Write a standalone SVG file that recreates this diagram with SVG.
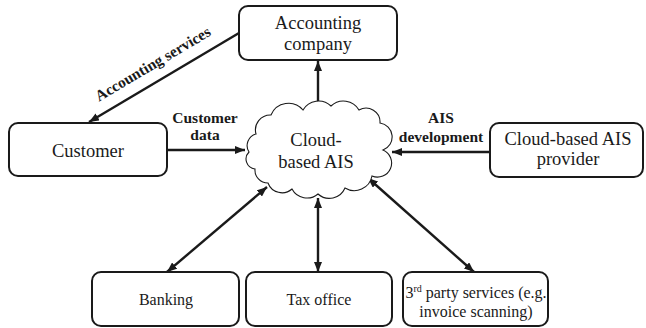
<svg xmlns="http://www.w3.org/2000/svg" width="646" height="328" viewBox="0 0 646 328">
<style>
.box{fill:#fff;stroke:#1a1a1a;stroke-width:2}
.cloud{fill:#fff;stroke:#1a1a1a;stroke-width:1.1}
text{font-family:'Liberation Serif','Times New Roman','DejaVu Serif',Times,serif;fill:#1a1a1a;text-anchor:middle}
.t{font-size:18.5px}
.s{font-size:16px}
.lb{font-size:15.5px;font-weight:bold}
.c{stroke:#1a1a1a;stroke-width:2.4;fill:none}
</style>
<defs>
<marker id="ah" viewBox="0 0 10 8" refX="10" refY="4" markerWidth="10" markerHeight="8" markerUnits="userSpaceOnUse" orient="auto-start-reverse">
<path d="M0,0 L10,4 L0,8 z" fill="#1a1a1a"/>
</marker>
</defs>
<g id="connectors">
<line class="c" x1="239" y1="33" x2="89" y2="122" marker-end="url(#ah)"/>
<line class="c" x1="167" y1="150" x2="245" y2="150" marker-end="url(#ah)"/>
<line class="c" x1="318" y1="108" x2="318" y2="61" marker-end="url(#ah)"/>
<line class="c" x1="490" y1="152" x2="392" y2="152" marker-end="url(#ah)"/>
<line class="c" x1="267" y1="187" x2="167" y2="272" marker-start="url(#ah)" marker-end="url(#ah)"/>
<line class="c" x1="318" y1="198" x2="318" y2="272" marker-start="url(#ah)" marker-end="url(#ah)"/>
<line class="c" x1="368" y1="178" x2="474" y2="272" marker-start="url(#ah)" marker-end="url(#ah)"/>
<text class="lb" transform="translate(155.5,68.3) rotate(-30.7)">Accounting services</text>
<text class="lb" x="205" y="123">Customer</text>
<text class="lb" x="205" y="140">data</text>
<text class="lb" x="441" y="123">AIS</text>
<text class="lb" x="441" y="142">development</text>
</g>
<g id="accounting-company">
<rect class="box" x="239" y="6" width="158" height="54" rx="9"/>
<text class="t" x="318" y="29">Accounting</text>
<text class="t" x="318" y="50">company</text>
</g>
<g id="customer">
<rect class="box" x="9" y="123" width="158" height="53" rx="9"/>
<text class="t" x="88" y="157">Customer</text>
</g>
<g id="provider">
<rect class="box" x="490" y="123" width="153" height="54" rx="9"/>
<text class="t" x="568" y="145">Cloud-based AIS</text>
<text class="t" x="568" y="165">provider</text>
</g>
<g id="cloud-ais">
<path class="cloud" d="M249,152 A12,12 0 0 1 256,134 A15,15 0 0 1 271,115 A19,19 0 0 1 303,110 A18,18 0 0 1 331,106 A18,18 0 0 1 359,110 A14,14 0 0 1 380,123 A14,14 0 0 1 383,150 A14,14 0 0 1 372,176 A18,18 0 0 1 345,188 A17,17 0 0 1 318,194 A17,17 0 0 1 292,189 A15,15 0 0 1 268,183 A13,13 0 0 1 255,169 A10,10 0 0 1 249,152 Z"/>
<text class="t" x="316" y="146">Cloud-</text>
<text class="t" x="316" y="168">based AIS</text>
</g>
<g id="banking">
<rect class="box" x="92" y="272" width="147" height="54" rx="9"/>
<text class="s" x="166" y="305">Banking</text>
</g>
<g id="tax-office">
<rect class="box" x="246" y="272" width="146" height="54" rx="9"/>
<text class="s" x="319" y="305">Tax office</text>
</g>
<g id="third-party">
<rect class="box" x="403" y="272" width="145" height="54" rx="9"/>
<text class="s" x="476" y="298">3<tspan dy="-6" font-size="10">rd</tspan><tspan dy="6"> party services (e.g.</tspan></text>
<text class="s" x="476" y="317">invoice scanning)</text>
</g>
</svg>
